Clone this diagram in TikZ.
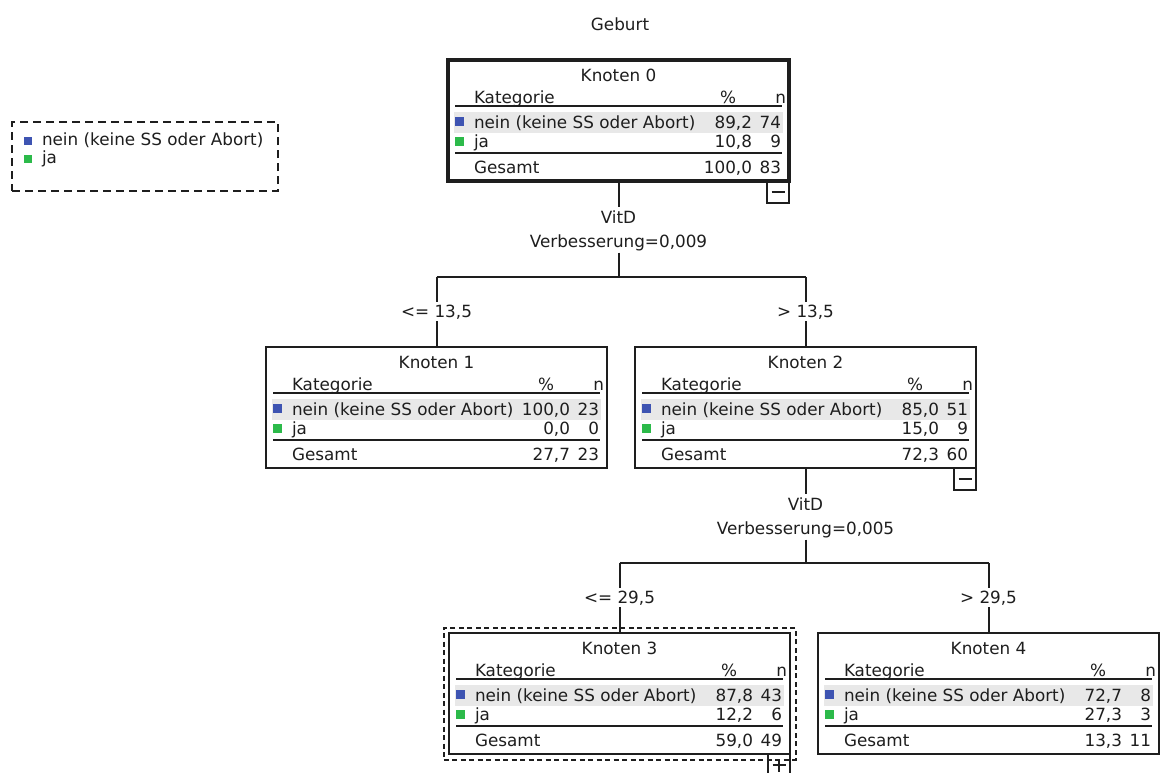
\documentclass[tikz,border=0pt]{standalone}
\usepackage{fontspec}
\setmainfont{DejaVu Sans}
\usetikzlibrary{fit}
\definecolor{catblue}{RGB}{62,84,178}
\definecolor{catgreen}{RGB}{44,186,74}
\definecolor{rowgray}{RGB}{232,232,232}
\definecolor{inkc}{RGB}{30,30,30}
\tikzset{
  txt/.style={inner sep=0pt, outer sep=0pt, font=\fontsize{16.8}{24}\selectfont, text=inkc},
  tbox/.style={draw=inkc, line width=2, rectangle, minimum width=341, minimum height=121,
               inner sep=0pt, outer sep=0pt, anchor=north west},
  rule/.style={draw=inkc, line width=2},
  conn/.style={draw=inkc, line width=2},
  tog/.style={draw=inkc, line width=2, rectangle, minimum width=22, minimum height=22,
              inner sep=0pt, outer sep=0pt, anchor=north east},
  sym/.style={draw=inkc, line width=2},
  selbox/.style={draw=inkc, line width=2, dash pattern=on 5pt off 3.5pt, rectangle, inner sep=5.5pt},
  legbox/.style={draw=inkc, line width=2, dash pattern=on 8pt off 5pt, rectangle,
                 inner sep=0pt, outer sep=0pt, anchor=north west, minimum width=266, minimum height=69},
  lbl/.style={txt, inner sep=2.5pt, anchor=base}
}
\newcommand\treebox[9]{%
  \node[tbox] (#1) at (#2) {};
  \begin{scope}[shift={(#1.north west)}]
    \fill[rowgray] (6,52) rectangle (335,73);
    \node[txt,anchor=base] (#1-title) at (170.5,21) {#3};
    \node[txt,anchor=base west] (#1-hk) at (26,43) {Kategorie};
    \node[txt,anchor=base] (#1-hp) at (280,43) {\%};
    \node[txt,anchor=base east] (#1-hn) at (338,43) {n};
    \draw[rule] (7,46) -- (334,46);
    \fill[catblue] (7,57) rectangle (16,66);
    \node[txt,anchor=base west] (#1-c1) at (26,68) {nein (keine SS oder Abort)};
    \node[txt,anchor=base east] (#1-p1) at (304,68) {#4};
    \node[txt,anchor=base east] (#1-n1) at (333,68) {#5};
    \fill[catgreen] (7,77) rectangle (16,86);
    \node[txt,anchor=base west] (#1-c2) at (26,87) {ja};
    \node[txt,anchor=base east] (#1-p2) at (304,87) {#6};
    \node[txt,anchor=base east] (#1-n2) at (333,87) {#7};
    \draw[rule] (7,93) -- (334,93);
    \node[txt,anchor=base west] (#1-c3) at (26,113) {Gesamt};
    \node[txt,anchor=base east] (#1-p3) at (304,113) {#8};
    \node[txt,anchor=base east] (#1-n3) at (333,113) {#9};
  \end{scope}}
\begin{document}
\begin{tikzpicture}[x=1pt,y=-1pt]
\clip (0,0) rectangle (1161,772);
\fill[white] (0,0) rectangle (1161,772);

% title
\node[txt,anchor=base] (title) at (620,30) {Geburt};

% legend
\node[legbox] (legend) at (12,122) {};
\fill[catblue] (24,137) rectangle (32,145);
\node[txt,anchor=base west] (leg-nein) at (42,145) {nein (keine SS oder Abort)};
\fill[catgreen] (24,155) rectangle (32,163);
\node[txt,anchor=base west] (leg-ja) at (42,163) {ja};

% tree nodes
\begin{scope}[tbox/.append style={line width=3.5}]
\treebox{n0}{448,60}{Knoten 0}{89,2}{74}{10,8}{9}{100,0}{83}
\end{scope}
\treebox{n1}{266,347}{Knoten 1}{100,0}{23}{0,0}{0}{27,7}{23}
\treebox{n2}{635,347}{Knoten 2}{85,0}{51}{15,0}{9}{72,3}{60}
\treebox{n3}{449,633}{Knoten 3}{87,8}{43}{12,2}{6}{59,0}{49}
\treebox{n4}{818,633}{Knoten 4}{72,7}{8}{27,3}{3}{13,3}{11}

\node[selbox, fit=(n3)] (n3sel) {};

% toggle boxes
\node[tog] (n0t) at (n0.south east) {};
\draw[sym] ([xshift=-6.5]n0t.center) -- ([xshift=6.5]n0t.center);
\node[tog] (n2t) at (n2.south east) {};
\draw[sym] ([xshift=-6.5]n2t.center) -- ([xshift=6.5]n2t.center);
\node[tog] (n3t) at (n3.south east) {};
\draw[sym] ([xshift=-6.5]n3t.center) -- ([xshift=6.5]n3t.center);
\draw[sym] ([yshift=-6.5]n3t.center) -- ([yshift=6.5]n3t.center);

% first split
\node[lbl, inner sep=3pt] (s0a) at (n0.south |- 0,223) {VitD};
\node[lbl, inner sep=2pt] (s0b) at (n0.south |- 0,247) {Verbesserung=0,009};
\coordinate (j0) at (s0b.south |- 0,277);
\coordinate (j0l) at (n1.north |- j0);
\coordinate (j0r) at (n2.north |- j0);
\node[lbl] (l1) at (n1.north |- 0,317) {<= 13,5};
\node[lbl] (l2) at (n2.north |- 0,317) {> 13,5};
\draw[conn] (n0.south) -- (s0a.north);
\draw[conn] (s0b.south) -- (j0);
\draw[conn] (j0l) -- (j0r);
\draw[conn] (j0l) -- (l1.north);
\draw[conn] (l1.south) -- (n1.north);
\draw[conn] (j0r) -- (l2.north);
\draw[conn] (l2.south) -- (n2.north);

% second split
\node[lbl, inner sep=3pt] (s2a) at (n2.south |- 0,510) {VitD};
\node[lbl, inner sep=2pt] (s2b) at (n2.south |- 0,534) {Verbesserung=0,005};
\coordinate (j2) at (s2b.south |- 0,563);
\coordinate (j2l) at (n3.north |- j2);
\coordinate (j2r) at (n4.north |- j2);
\node[lbl] (l3) at (n3.north |- 0,603) {<= 29,5};
\node[lbl] (l4) at (n4.north |- 0,603) {> 29,5};
\draw[conn] (n2.south) -- (s2a.north);
\draw[conn] (s2b.south) -- (j2);
\draw[conn] (j2l) -- (j2r);
\draw[conn] (j2l) -- (l3.north);
\draw[conn] (l3.south) -- (n3.north);
\draw[conn] (j2r) -- (l4.north);
\draw[conn] (l4.south) -- (n4.north);
\end{tikzpicture}
\end{document}
